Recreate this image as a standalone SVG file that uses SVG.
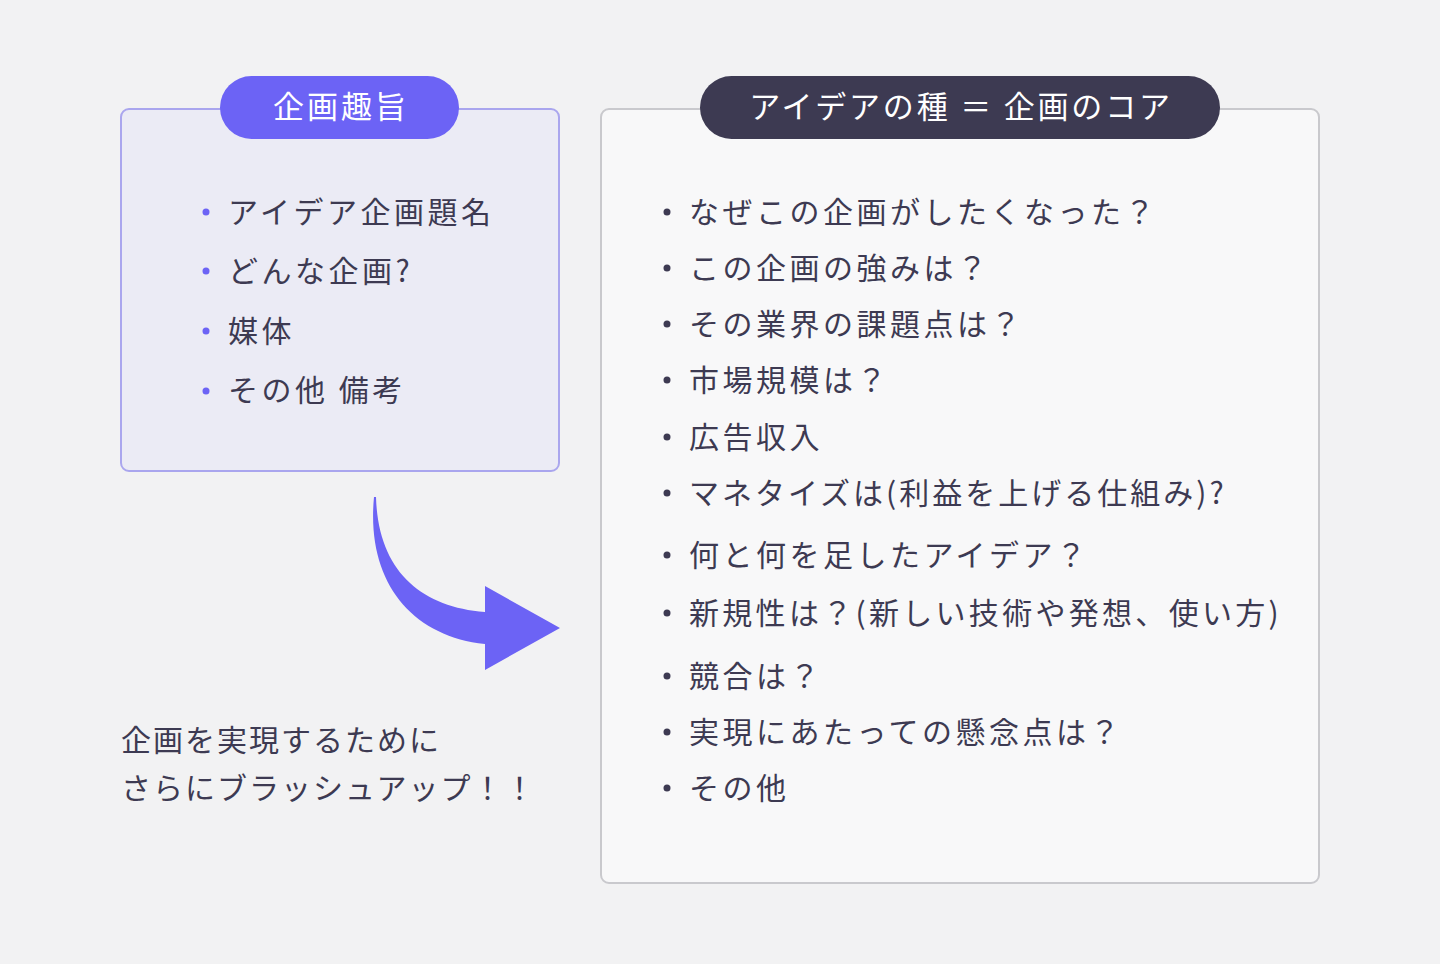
<svg xmlns="http://www.w3.org/2000/svg" width="1440" height="964" viewBox="0 0 1440 964">
<style>
.t{font-family:"Noto Sans CJK JP","Noto Sans",sans-serif;font-size:30px;fill:#3d3a52;letter-spacing:3.5px}
.h{font-family:"Noto Sans CJK JP","Noto Sans",sans-serif;font-size:31px;fill:#ffffff;letter-spacing:3px}
.b1{fill:#6c63f5}
.b2{fill:#3d3a52}
</style>
<rect width="1440" height="964" fill="#f2f2f3"/>
<g id="node-shushi">
<rect x="121" y="109" width="438" height="362" rx="8" fill="#ebebf5" stroke="#aaa6ee" stroke-width="2"/>
<rect x="220" y="76" width="239" height="63" rx="31.5" fill="#6c63f5"/>
<text class="h" x="341" y="118" text-anchor="middle">企画趣旨</text>
<circle class="b1" cx="206" cy="212" r="3.5"/>
<text class="t" x="228" y="223">アイデア企画題名</text>
<circle class="b1" cx="206" cy="271" r="3.5"/>
<text class="t" x="228" y="282">どんな企画?</text>
<circle class="b1" cx="206" cy="331" r="3.5"/>
<text class="t" x="228" y="342">媒体</text>
<circle class="b1" cx="206" cy="391" r="3.5"/>
<text class="t" x="228" y="401">その他 備考</text>
</g>
<g id="node-core">
<rect x="601" y="109" width="718" height="774" rx="8" fill="#f8f8f9" stroke="#c9c9cd" stroke-width="2"/>
<rect x="700" y="76" width="520" height="63" rx="31.5" fill="#3d3a52"/>
<text class="h" x="961" y="118" text-anchor="middle" style="letter-spacing:2.8px">アイデアの種 ＝ 企画のコア</text>
<g>
<circle class="b2" cx="667" cy="212" r="3.5"/><text class="t" x="689" y="223">なぜこの企画がしたくなった？</text>
<circle class="b2" cx="667" cy="268" r="3.5"/><text class="t" x="689" y="279">この企画の強みは？</text>
<circle class="b2" cx="667" cy="324" r="3.5"/><text class="t" x="689" y="335">その業界の課題点は？</text>
<circle class="b2" cx="667" cy="380" r="3.5"/><text class="t" x="689" y="391">市場規模は？</text>
<circle class="b2" cx="667" cy="437" r="3.5"/><text class="t" x="689" y="448">広告収入</text>
<circle class="b2" cx="667" cy="493" r="3.5"/><text class="t" x="689" y="504" style="letter-spacing:3px">マネタイズは(利益を上げる仕組み)?</text>
<circle class="b2" cx="667" cy="555" r="3.5"/><text class="t" x="689" y="566">何と何を足したアイデア？</text>
<circle class="b2" cx="667" cy="613" r="3.5"/><text class="t" x="689" y="624" style="letter-spacing:3.3px">新規性は？(新しい技術や発想、使い方)</text>
<circle class="b2" cx="667" cy="676" r="3.5"/><text class="t" x="689" y="687">競合は？</text>
<circle class="b2" cx="667" cy="732" r="3.5"/><text class="t" x="689" y="743">実現にあたっての懸念点は？</text>
<circle class="b2" cx="667" cy="788" r="3.5"/><text class="t" x="689" y="799">その他</text>
</g>
</g>
<g id="connectors">
<path d="M374,497 C366,580 410,636 485,644 L485,670 L560,628 L485,586 L485,612 C420,607 378,570 376,497 Z" fill="#6c63f5"/>
</g>
<g id="note">
<text class="t" x="121" y="751" style="letter-spacing:2px">企画を実現するために</text>
<text class="t" x="121" y="799" style="letter-spacing:2px">さらにブラッシュアップ！！</text>
</g>
</svg>
